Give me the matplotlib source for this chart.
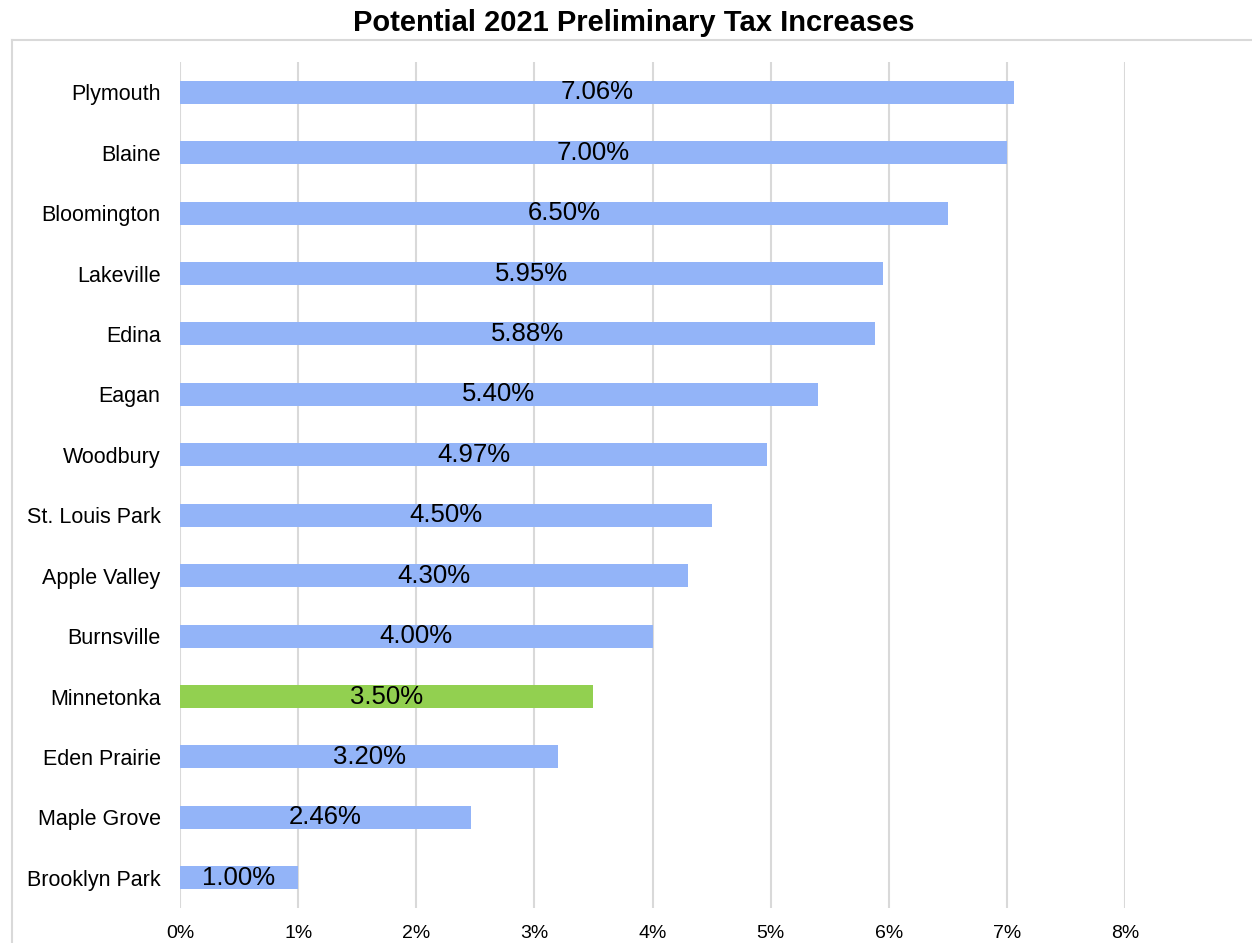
import matplotlib
matplotlib.use('Agg')
import matplotlib.pyplot as plt
from matplotlib.lines import Line2D
from matplotlib.ticker import FuncFormatter

plt.rcParams['font.family'] = ['Liberation Sans', 'DejaVu Sans']

cities = ['Plymouth', 'Blaine', 'Bloomington', 'Lakeville', 'Edina', 'Eagan',
          'Woodbury', 'St. Louis Park', 'Apple Valley', 'Burnsville',
          'Minnetonka', 'Eden Prairie', 'Maple Grove', 'Brooklyn Park']
increases = [7.06, 7.00, 6.50, 5.95, 5.88, 5.40, 4.97, 4.50, 4.30, 4.00,
             3.50, 3.20, 2.46, 1.00]
highlight = 'Minnetonka'

blue = '#93b4f8'
green = '#92d050'
grid_color = '#d9d9d9'

W, H = 1252, 943
fig = plt.figure(figsize=(W / 100, H / 100), dpi=100)
ax = fig.add_axes([180 / W, 1 - 908 / H, (1125 - 180) / W, (908 - 62) / H])

colors = [green if c == highlight else blue for c in cities]
ypos = list(range(len(cities)))
bars = ax.barh(ypos, increases, height=0.38, color=colors, zorder=2)

for bar, val in zip(bars, increases):
    ax.text(bar.get_width() / 2, bar.get_y() + bar.get_height() / 2,
            f'{val:.2f}%', ha='center', va='center', fontsize=18.5,
            color='black', zorder=3)

ax.set_xlim(0, 8)
ax.set_ylim(len(cities) - 0.5, -0.5)
ax.set_xticks(range(0, 9))
ax.xaxis.set_major_formatter(FuncFormatter(lambda v, p: f'{v:.0f}%'))
ax.set_yticks(ypos)
ax.set_yticklabels(cities, fontsize=15.5)
ax.tick_params(axis='both', length=0)
ax.tick_params(axis='x', pad=12, labelsize=14)
ax.tick_params(axis='y', pad=14)
ax.grid(axis='x', color=grid_color, linewidth=1.5, zorder=0)
for s in ax.spines.values():
    s.set_visible(False)

# chart area frame (top and left edges)
fig.add_artist(Line2D([12 / W, 1], [1 - 40 / H, 1 - 40 / H], color=grid_color,
                      linewidth=1.5, transform=fig.transFigure))
fig.add_artist(Line2D([12 / W, 12 / W], [0, 1 - 40 / H], color=grid_color,
                      linewidth=1.5, transform=fig.transFigure))

fig.text(634 / W, 1 - 23 / H, 'Potential 2021 Preliminary Tax Increases',
         ha='center', va='center', fontsize=21, fontweight='bold')

fig.savefig('out.png', dpi=100, facecolor='white')
